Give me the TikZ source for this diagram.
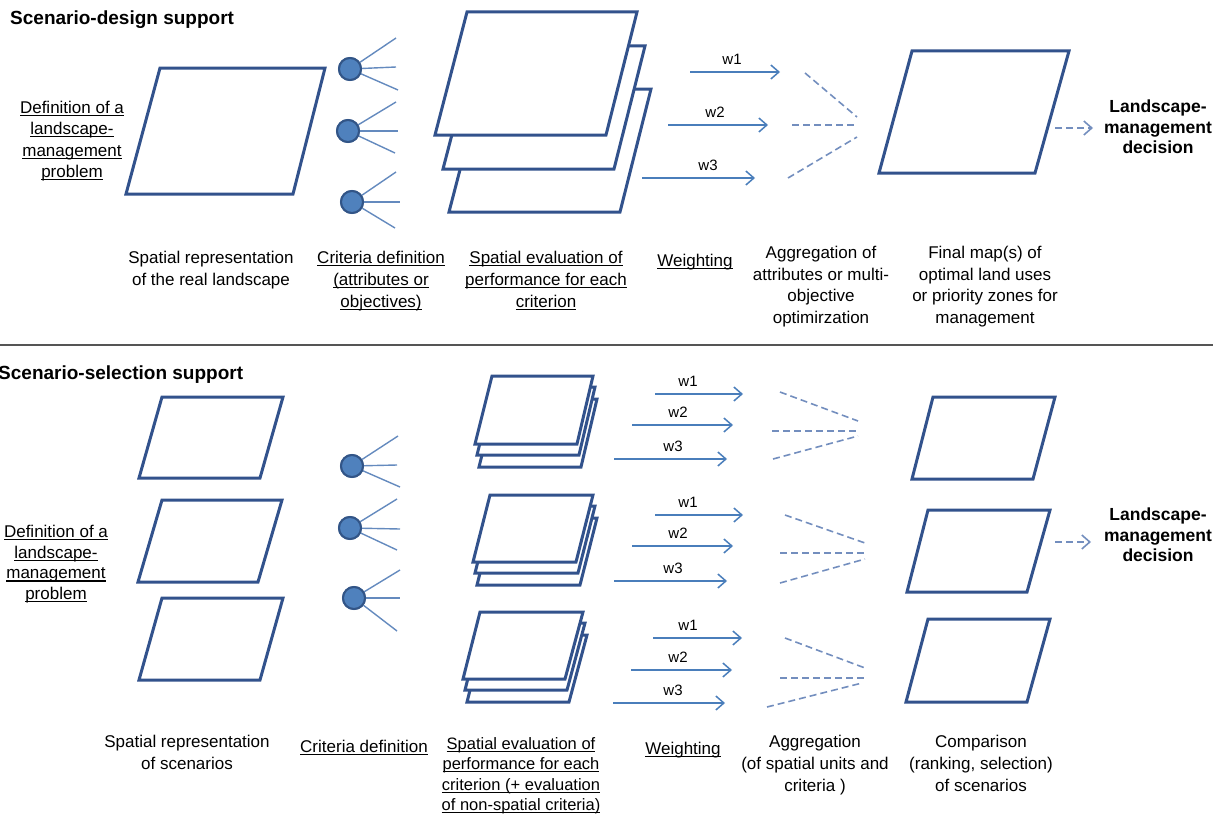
\documentclass[tikz,border=0pt]{standalone}
\usepackage{fontspec}
\setmainfont{Liberation Sans}
\usetikzlibrary{arrows.meta}
\definecolor{mapc}{RGB}{50,82,140}
\definecolor{dotc}{RGB}{79,129,189}
\definecolor{dotb}{RGB}{50,85,135}
\definecolor{spokec}{RGB}{100,138,190}
\definecolor{arrc}{RGB}{74,126,187}
\definecolor{dashc}{RGB}{115,142,190}
\definecolor{divc}{RGB}{85,85,85}
\newcommand\ulx[1]{\setbox0\hbox{#1}\rlap{\rule[-2.6pt]{\wd0}{1.1pt}}\box0}
\newcommand\pgram[4]{\draw[mapline] #1 -- #2 -- #3 -- #4 -- cycle;}
% stack: TL TR BR BL of the front sheet, then shifts of the two sheets behind
\newcommand\stackmaps[8]{%
  \begin{scope}[shift={(#7)}]\pgram{#1}{#2}{#3}{#4}\end{scope}
  \begin{scope}[shift={(#6)}]\pgram{#1}{#2}{#3}{#4}\end{scope}
  \pgram{#1}{#2}{#3}{#4}}
% spokes: name, centre, three end points
\newcommand\spokes[5]{%
  \coordinate (#1a) at #3; \coordinate (#1b) at #4; \coordinate (#1c) at #5;
  \node[dot] (#1) at #2 {};
  \draw[spoke] (#1) -- (#1a); \draw[spoke] (#1) -- (#1b); \draw[spoke] (#1) -- (#1c);
  \node[dot] at #2 {};}
% weight arrow: name, x1, x2, y, label x, label
\newcommand\warrow[6]{%
  \coordinate (#1s) at (#2,#4); \coordinate (#1e) at (#3,#4);
  \draw[warr] (#1s) -- (#1e);
  \node[wlab] (#1l) at (#5,#4-13) {#6};}
\begin{document}
\begin{tikzpicture}[x=1pt,y=-1pt,
  mapline/.style={draw=mapc, line width=3pt, line join=miter, fill=white},
  dot/.style={circle, fill=dotc, draw=dotb, line width=2pt, minimum size=22pt, inner sep=0pt},
  spoke/.style={draw=spokec, line width=1.4pt},
  warr/.style={draw=arrc, line width=1.5pt, -{Straight Barb[length=8pt,width=14pt]}},
  dsh/.style={draw=dashc, line width=1.6pt, dash pattern=on 7pt off 4pt},
  darr/.style={dsh, -{Straight Barb[length=8pt,width=14pt]}},
  lab/.style={font=\fontsize{17}{22}\selectfont, align=center, inner sep=0pt, anchor=north},
  wlab/.style={font=\fontsize{15}{16}\selectfont, inner sep=0pt},
  ttl/.style={font=\fontsize{19}{22}\selectfont\bfseries, anchor=west, inner sep=0pt},
  dec/.style={font=\fontsize{17.5}{20.5}\selectfont\bfseries, align=center, inner sep=0pt, anchor=north},
  divider/.style={draw=divc, line width=2pt}]
\useasboundingbox (0,0) rectangle (1225,816);

% ================= Scenario-design support =================
\node[ttl] (t1) at (10,20) {Scenario-design support};

\pgram{(160,68)}{(325,68)}{(293,194)}{(126,194)}

\spokes{c1}{(350,69)}{(396,38)}{(396,67)}{(398,90)}
\spokes{c2}{(348,131)}{(396,102)}{(398,131)}{(395,153)}
\spokes{c3}{(352,202)}{(396,172)}{(400,202)}{(395,228)}

\stackmaps{(467,12)}{(637,12)}{(606,135)}{(435,135)}{}{8,34}{14,77}{}

\warrow{a1}{690}{780}{72}{732}{w1}
\warrow{a2}{668}{768}{125}{715}{w2}
\warrow{a3}{642}{755}{178}{708}{w3}

\draw[dsh] (805,73) -- (857,117);
\draw[dsh] (792,125) -- (857,125);
\draw[dsh] (788,178) -- (857,137);

\pgram{(912,51)}{(1069,51)}{(1035,173)}{(879,173)}

\coordinate (da1) at (1055,128);
\coordinate (db1) at (1093,128);
\draw[darr] (da1) -- (db1);
\node[dec] (dec1) at (1158,100) {Landscape-\\management\\decision};

\node[lab, font=\fontsize{17}{21.3}\selectfont] (def1) at (72,101) {\ulx{Definition of a}\\\ulx{landscape-}\\\ulx{management}\\\ulx{problem}};
\node[lab] (sr1) at (211,251) {Spatial representation\\of the real landscape};
\node[lab] (cd1) at (381,251) {\ulx{Criteria definition}\\\ulx{(attributes or}\\\ulx{objectives)}};
\node[lab] (se1) at (546,251) {\ulx{Spatial evaluation of}\\\ulx{performance for each}\\\ulx{criterion}};
\node[lab] (wt1) at (695,254) {\ulx{Weighting}};
\node[lab, font=\fontsize{17}{21.7}\selectfont] (ag1) at (821,246) {Aggregation of\\attributes or multi-\\objective\\optimirzation};
\node[lab, font=\fontsize{17}{21.7}\selectfont] (fm1) at (985,246) {Final map(s) of\\optimal land uses\\or priority zones for\\management};

\draw[divider] (0,345) -- (1213,345);

% ================= Scenario-selection support =================
\node[ttl] (t2) at (-2,375) {Scenario-selection support};

\pgram{(162,397)}{(283,397)}{(260,478)}{(139,478)}
\pgram{(162,500)}{(282,500)}{(258,582)}{(138,582)}
\pgram{(162,598)}{(283,598)}{(260,680)}{(139,680)}

\spokes{d1}{(352,466)}{(398,436)}{(397,465)}{(400,487)}
\spokes{d2}{(350,528)}{(397,499)}{(400,529)}{(397,550)}
\spokes{d3}{(354,598)}{(400,570)}{(400,598)}{(397,631)}

\stackmaps{(492,376)}{(593,376)}{(577,444)}{(475,444)}{}{2,11}{4,23}{}
\stackmaps{(490,495)}{(593,495)}{(576,562)}{(473,562)}{}{2,11}{4,23}{}
\stackmaps{(480,612)}{(583,612)}{(565,679)}{(463,679)}{}{2,11}{4,23}{}

\warrow{b1}{655}{743}{394}{688}{w1}
\warrow{b2}{632}{733}{425}{678}{w2}
\warrow{b3}{614}{727}{459}{673}{w3}
\warrow{f1}{655}{743}{515}{688}{w1}
\warrow{f2}{632}{733}{546}{678}{w2}
\warrow{f3}{614}{727}{581}{673}{w3}
\warrow{e1}{653}{742}{638}{688}{w1}
\warrow{e2}{631}{732}{670}{678}{w2}
\warrow{e3}{613}{725}{703}{673}{w3}

\draw[dsh] (780,392) -- (858,421);
\draw[dsh] (772,431) -- (858,431);
\draw[dsh] (773,459) -- (858,436);
\draw[dsh] (785,515) -- (865,543);
\draw[dsh] (780,553) -- (865,553);
\draw[dsh] (780,583) -- (865,559);
\draw[dsh] (785,638) -- (865,668);
\draw[dsh] (780,678) -- (865,678);
\draw[dsh] (767,707) -- (862,683);

\pgram{(933,397)}{(1055,397)}{(1033,479)}{(912,479)}
\pgram{(928,510)}{(1050,510)}{(1027,592)}{(907,592)}
\pgram{(928,619)}{(1050,619)}{(1027,702)}{(906,702)}

\coordinate (da2) at (1055,542);
\coordinate (db2) at (1091,542);
\draw[darr] (da2) -- (db2);
\node[dec] (dec2) at (1158,508) {Landscape-\\management\\decision};

\node[lab, font=\fontsize{17}{20.7}\selectfont] (def2) at (56,525) {\ulx{Definition of a}\\\ulx{landscape-}\\\ulx{management}\\\ulx{problem}};
\node[lab] (sr2) at (187,735) {Spatial representation\\of scenarios};
\node[lab] (cd2) at (364,740) {\ulx{Criteria definition}};
\node[lab, font=\fontsize{16.5}{20.5}\selectfont] (se2) at (521,737) {\ulx{Spatial evaluation of}\\\ulx{performance for each}\\\ulx{criterion (+ evaluation}\\\ulx{of non-spatial criteria)}};
\node[lab] (wt2) at (683,742) {\ulx{Weighting}};
\node[lab] (ag2) at (815,735) {Aggregation\\(of spatial units and\\criteria )};
\node[lab] (cm2) at (981,735) {Comparison\\(ranking, selection)\\of scenarios};
\end{tikzpicture}
\end{document}
